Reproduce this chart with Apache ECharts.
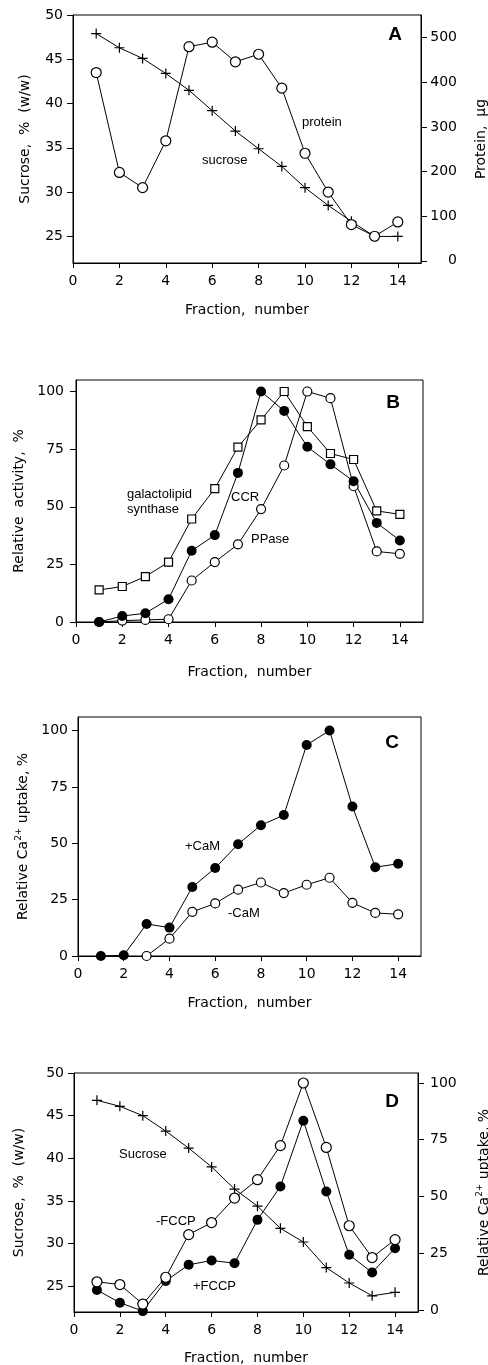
<!DOCTYPE html>
<html>
<head>
<meta charset="utf-8">
<style type="text/css">
html, body { margin: 0; padding: 0; background: #fff; }
#chart { width: 488px; height: 1365px; }
</style>
<script src="https://cdn.jsdelivr.net/npm/echarts@6/dist/echarts.min.js"></script>
</head>
<body>
<div id="chart"></div>
<script type="text/javascript">
// fraction numbers (x) shared by all four panels
var fractions = [1, 2, 3, 4, 5, 6, 7, 8, 9, 10, 11, 12, 13, 14];
var xTicks = [0, 2, 4, 6, 8, 10, 12, 14];

// A: sucrose gradient (left axis) and protein (right axis)
var sucroseA = [47.9, 46.3, 45.1, 43.4, 41.5, 39.2, 36.9, 34.9, 32.9, 30.5, 28.5, 26.7, 25.0, 25.0];
var proteinA = [422, 198, 164, 269, 480, 490, 446, 463, 387, 241, 154, 81, 55, 87];
var sucroseTicks = [25, 30, 35, 40, 45, 50];
var proteinTicks = [0, 100, 200, 300, 400, 500];

// B: relative activity
var galSynth = [13.9, 15.4, 19.7, 26, 44.7, 57.9, 75.9, 87.7, 100, 84.8, 73.1, 70.5, 48.2, 46.7];
var ccr = [0, 2.6, 3.8, 9.9, 30.9, 37.7, 64.7, 100, 91.6, 76, 68.4, 61.1, 43, 35.4];
var ppase = [0, 0.6, 0.9, 1.2, 18, 26, 33.7, 49, 67.9, 100, 97.1, 58.9, 30.6, 29.6];
var pctTicks = [0, 25, 50, 75, 100];

// C: Ca2+ uptake with / without CaM
var plusCaM = [0, 0.3, 14.2, 12.6, 30.6, 39, 49.6, 58, 62.5, 93.6, 100, 66.3, 39.4, 40.9];
var minusCaM = [null, null, 0, 7.7, 19.6, 23.3, 29.4, 32.6, 27.9, 31.6, 34.7, 23.6, 19.1, 18.5];

// D: sucrose (left) and Ca2+ uptake with / without FCCP (right)
var sucroseD = [46.8, 46.1, 45.0, 43.2, 41.2, 39.0, 36.4, 34.4, 31.8, 30.2, 27.2, 25.4, 23.9, 24.3];
var minusFCCP = [12.4, 11.2, 2.6, 14.4, 33.2, 38.5, 49.3, 57.4, 72.4, 100, 71.6, 37.1, 23.1, 31];
var plusFCCP = [8.8, 3.2, -0.5, 12.8, 19.9, 21.8, 20.6, 39.7, 54.4, 83.4, 52.2, 24.3, 16.5, 27.2];

var FONT = 'DejaVu Sans';
var plusPath = 'path://M0,4.4H10V5.6H0ZM4.4,0H5.6V10H4.4Z';

function pts(ys) {
    return fractions.map(function (x, i) { return [x, ys[i]]; });
}

function xAx(grid, gap) {
    return {
        type: 'value', gridIndex: grid, min: 0, max: 15,
        name: 'Fraction,  number', nameLocation: 'middle', nameGap: gap,
        nameTextStyle: { fontFamily: FONT, fontSize: 14, color: '#000' },
        axisLine: { onZero: false, lineStyle: { color: '#000', width: 1 } },
        axisTick: { length: 5, customValues: xTicks, lineStyle: { color: '#000' } },
        axisLabel: { customValues: xTicks, margin: 11, fontFamily: FONT, fontSize: 14, color: '#000' },
        splitLine: { show: false }
    };
}

function yAx(grid, pos, min, max, ticks, name, gap, lbl) {
    return {
        type: 'value', gridIndex: grid, position: pos, min: min, max: max,
        name: name, nameLocation: 'middle', nameGap: gap, nameRotate: 90,
        nameTextStyle: {
            fontFamily: FONT, fontSize: 14, color: '#000',
            rich: {
                a: { fontFamily: FONT, fontSize: 14, lineHeight: 18, color: '#000' },
                s: { fontFamily: FONT, fontSize: 9, lineHeight: 9, verticalAlign: 'top', color: '#000' }
            }
        },
        axisLine: { show: true, onZero: false, lineStyle: { color: '#000', width: 1 } },
        axisTick: { show: true, length: 6, customValues: ticks, lineStyle: { color: '#000' } },
        axisLabel: Object.assign({ customValues: ticks, margin: 10, fontFamily: FONT, fontSize: 14, color: '#000' }, lbl || {}),
        splitLine: { show: false }
    };
}

function line(name, xi, yi, ys, sym, size, fill) {
    return {
        name: name, type: 'line', xAxisIndex: xi, yAxisIndex: yi,
        data: pts(ys), symbol: sym, symbolSize: size, showAllSymbol: true,
        clip: false, connectNulls: false,
        lineStyle: { color: '#000', width: 1 },
        itemStyle: { color: fill, borderColor: '#000', borderWidth: fill === '#000' ? 0 : 1.2 },
        emphasis: { disabled: true }
    };
}

function txt(x, y, s, opt) {
    return {
        type: 'text', x: x, y: y, silent: true,
        style: Object.assign({ text: s, fill: '#000', font: '13px "Liberation Sans"', textAlign: 'left', textVerticalAlign: 'middle' }, opt || {})
    };
}
var bold = { font: 'bold 19px "Liberation Sans"', textAlign: 'center' };

function grid(l, t, w, h) {
    return { left: l, top: t, width: w, height: h, containLabel: false, outerBoundsMode: 'none',
             show: true, borderColor: '#000', borderWidth: 1 };
}

var myChart = echarts.init(document.getElementById('chart'), null, { renderer: 'canvas' });
var option = {
    animation: false,
    backgroundColor: '#fff',
    grid: [
        grid(73, 15, 348, 248),
        grid(76, 380, 347, 242),
        grid(78, 717, 343, 239),
        grid(74, 1073, 344, 239)
    ],
    xAxis: [xAx(0, 40), xAx(1, 43), xAx(2, 40), xAx(3, 39)],
    yAxis: [
        yAx(0, 'left', 22, 50, sucroseTicks, 'Sucrose,  %  (w/w)', 41),
        yAx(0, 'right', -5, 551, proteinTicks, 'Protein,  µg', 53, { align: 'right', margin: 36 }),
        yAx(1, 'left', 0, 105, pctTicks, 'Relative  activity,  %', 44, { margin: 12 }),
        yAx(2, 'left', 0, 106, pctTicks, '{a|Relative Ca}{s|2+}{a| uptake, %}', 42),
        yAx(3, 'left', 22, 50, sucroseTicks, 'Sucrose,  %  (w/w)', 48),
        yAx(3, 'right', -0.9, 104.4, pctTicks, '{a|Relative Ca}{s|2+}{a| uptake, %}', 57, { margin: 12 })
    ],
    graphic: [
        txt(395, 35, 'A', bold),
        txt(302, 122, 'protein'),
        txt(202, 160, 'sucrose'),
        txt(393, 403, 'B', bold),
        txt(127, 494, 'galactolipid'),
        txt(127, 509, 'synthase'),
        txt(231, 497, 'CCR'),
        txt(251, 539, 'PPase'),
        txt(392, 743, 'C', bold),
        txt(185, 846, '+CaM'),
        txt(228, 913, '-CaM'),
        txt(392, 1102, 'D', bold),
        txt(119, 1154, 'Sucrose'),
        txt(156, 1221, '-FCCP'),
        txt(193, 1286, '+FCCP')
    ],
    series: [
        line('sucrose', 0, 0, sucroseA, plusPath, 10, '#000'),
        line('protein', 0, 1, proteinA, 'circle', 10, '#fff'),
        line('galactolipid synthase', 1, 2, galSynth, 'rect', 8, '#fff'),
        line('PPase', 1, 2, ppase, 'circle', 9, '#fff'),
        line('CCR', 1, 2, ccr, 'circle', 10, '#000'),
        line('-CaM', 2, 3, minusCaM, 'circle', 9, '#fff'),
        line('+CaM', 2, 3, plusCaM, 'circle', 10, '#000'),
        line('Sucrose', 3, 4, sucroseD, plusPath, 10, '#000'),
        line('+FCCP', 3, 5, plusFCCP, 'circle', 10, '#000'),
        line('-FCCP', 3, 5, minusFCCP, 'circle', 10, '#fff')
    ]
};
myChart.setOption(option);
</script>
</body>
</html>
